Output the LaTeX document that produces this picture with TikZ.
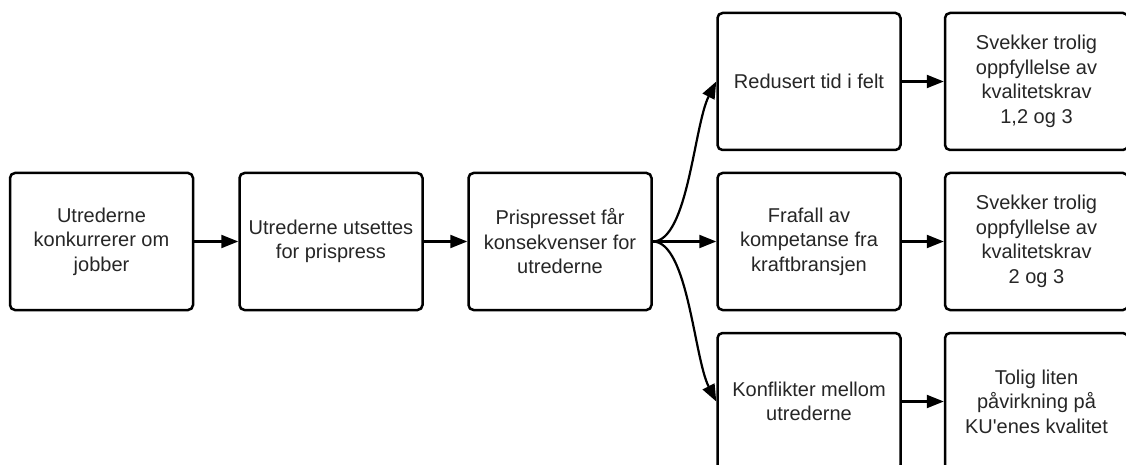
\documentclass[tikz,border=0pt]{standalone}
\usepackage{fontspec}
\setmainfont{Liberation Sans}
\usetikzlibrary{arrows.meta}
\begin{document}
\begin{tikzpicture}[x=1pt,y=-1pt,
  box/.style={draw=black, line width=2.5pt, rounded corners=5pt, fill=white,
    minimum width=183pt, minimum height=137pt, inner sep=0pt,
    align=center, font=\fontsize{20}{24.5}\selectfont, text=black!85},
  conn/.style={line width=2.2pt, -{Triangle[length=17pt,width=13pt]}}]
\useasboundingbox (0,0) rectangle (1126,465);
\clip (0,0) rectangle (1126,465);
\fill[white] (0,0) rectangle (1126,465);
\node[box] (a) at (101.5,241.5) {Utrederne\\konkurrerer om\\jobber};
\node[box] (b) at (331,241.5) {Utrederne utsettes\\for prispress};
\node[box] (c) at (560,241.5) {Prispresset får\\konsekvenser for\\utrederne};
\node[box] (d1) at (809,81.5) {Redusert tid i felt};
\node[box] (d2) at (809,241.5) {Frafall av\\kompetanse fra\\kraftbransjen};
\node[box] (d3) at (809,401.5) {Konflikter mellom\\utrederne};
\node[box] (e1) at (1036.5,81.5) {Svekker trolig\\oppfyllelse av\\kvalitetskrav\\1,2 og 3};
\node[box] (e2) at (1036.5,241.5) {Svekker trolig\\oppfyllelse av\\kvalitetskrav\\2 og 3};
\node[box] (e3) at (1036.5,401.5) {Tolig liten\\påvirkning på\\KU\textquotesingle enes kvalitet};
\draw[conn] (a.east) -- (b.west);
\draw[conn] (b.east) -- (c.west);
\draw[conn] (c.east) -- (d2.west);
\draw[conn] (c.east) .. controls (688,241.5) and (694,125) .. (d1.west);
\draw[conn] (c.east) .. controls (688,241.5) and (694,358) .. (d3.west);
\draw[conn] (d1.east) -- (e1.west);
\draw[conn] (d2.east) -- (e2.west);
\draw[conn] (d3.east) -- (e3.west);
\end{tikzpicture}
\end{document}
